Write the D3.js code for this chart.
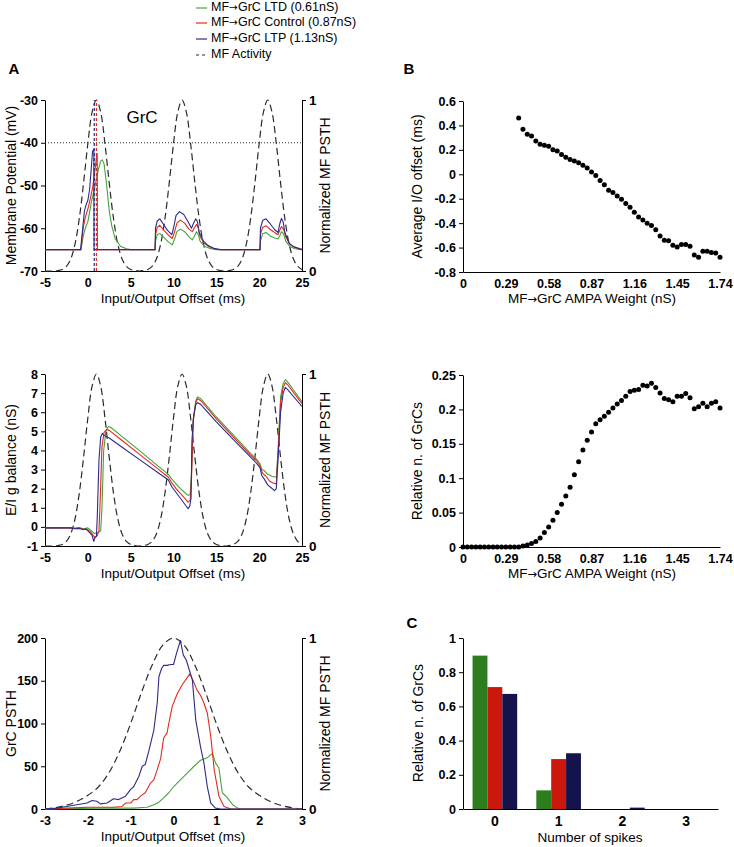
<!DOCTYPE html>
<html><head><meta charset="utf-8">
<script src="https://cdn.jsdelivr.net/npm/d3@7"></script>
<style>
body{margin:0;background:#fff;}
svg{display:block;font-family:"Liberation Sans",Arial,sans-serif;}
</style></head><body>
<svg id="c" width="734" height="847"></svg>
<script>
// ---------------- DATA ----------------
const legendLabels = ["MF\u2192GrC LTD (0.61nS)", "MF\u2192GrC Control (0.87nS)", "MF\u2192GrC LTP (1.13nS)", "MF Activity"];
const seriesKeys = ["LTD", "Control", "LTP"];

// MF activity (normalized), shared by panels A top and middle
const mfTimes = [-5,-4.5,-4,-3.5,-3,-2.5,-2,-1.5,-1,-0.5,0,0.5,1,1.5,2,2.5,3,3.5,4,4.5,5,5.5,6,6.5,7,7.5,8,8.5,9,9.5,10,10.5,11,11.5,12,12.5,13,13.5,14,14.5,15,15.5,16,16.5,17,17.5,18,18.5,19,19.5,20,20.5,21,21.5,22,22.5,23,23.5,24,24.5,25];
const mfActivity = [0,0,0,0.003,0.009,0.027,0.07,0.157,0.306,0.514,0.744,0.929,1,0.929,0.744,0.514,0.306,0.157,0.07,0.027,0.009,0.003,0,0.003,0.009,0.027,0.07,0.157,0.306,0.514,0.744,0.929,1,0.929,0.744,0.514,0.306,0.157,0.07,0.027,0.009,0.003,0,0.003,0.009,0.027,0.07,0.157,0.306,0.514,0.744,0.929,1,0.929,0.744,0.514,0.306,0.157,0.07,0.027,0.009];

// Panel A top: membrane potential [ms, mV]
const vmLTD = [[-5,-65],[-0.8,-65],[-0.55,-62],[-0.3,-60],[0,-58.5],[0.4,-54],[0.8,-50.5],[1.2,-46.5],[1.5,-44.3],[1.7,-44],[1.9,-45],[2.2,-50],[2.5,-56],[2.8,-59.5],[3.2,-62.5],[3.8,-64.2],[4.5,-64.8],[5,-65],[7.85,-65],[7.9,-63],[8.1,-61.5],[8.4,-61.2],[8.9,-62.2],[9.4,-63.2],[9.85,-63.9],[10.1,-62.7],[10.4,-60.8],[10.8,-60.2],[11.3,-60.8],[11.8,-62],[12.2,-62.7],[12.4,-62],[12.7,-60.8],[12.9,-61.5],[13.1,-63],[13.6,-64.2],[14.2,-64.7],[15,-65],[20.1,-65],[20.15,-63],[20.4,-61.3],[20.8,-61],[21.3,-61.8],[21.8,-62.3],[22.2,-62.5],[22.4,-61.8],[22.6,-60.8],[22.85,-61.3],[23.1,-63],[23.6,-64.3],[24.2,-64.8],[25,-65]];
const vmControl = [[-5,-65],[-0.8,-65],[-0.55,-60],[-0.3,-57.5],[0,-55.5],[0.3,-53],[0.6,-50],[0.85,-46],[1.05,-43],[1.1,-42.5],[1.12,-65],[7.85,-65],[7.9,-61.5],[8.1,-59.8],[8.4,-59.3],[8.9,-60.5],[9.4,-61.6],[9.85,-62.4],[10.1,-61],[10.4,-58.8],[10.8,-58.1],[11.3,-58.8],[11.8,-60.2],[12.2,-60.8],[12.4,-60],[12.7,-59.1],[12.9,-60],[13.1,-62],[13.6,-63.5],[14.2,-64.4],[15,-64.9],[15.5,-65],[20.1,-65],[20.15,-61.5],[20.4,-59.8],[20.8,-59.4],[21.3,-60.3],[21.8,-61],[22.2,-61.5],[22.4,-60.5],[22.6,-59.6],[22.85,-60.2],[23.1,-62],[23.6,-63.8],[24.2,-64.5],[25,-65]];
const vmLTP = [[-5,-65],[-0.85,-65],[-0.6,-60],[-0.4,-56],[-0.2,-54.5],[0,-53.5],[0.2,-51],[0.4,-46],[0.55,-42],[0.7,-41.5],[0.72,-65],[7.85,-65],[7.9,-60],[8.1,-58.3],[8.4,-57.8],[8.8,-59],[9.3,-60.5],[9.8,-61.5],[10,-60],[10.3,-57],[10.7,-56.1],[11.2,-56.8],[11.7,-58.5],[12.1,-60],[12.3,-59],[12.6,-57.8],[12.8,-58.5],[13,-61],[13.5,-63],[14,-64],[14.7,-64.7],[15.5,-65],[20.1,-65],[20.15,-60],[20.4,-58.2],[20.8,-57.8],[21.3,-59],[21.8,-60.3],[22.2,-61],[22.4,-59],[22.6,-57.7],[22.8,-58.5],[23,-61],[23.5,-63.5],[24,-64.3],[25,-65]];
const spikeLTP = [0.75];
const spikeControl = [1.0];
const thresholdMv = -40;

// Panel A middle: E/I g balance [ms, nS]
const gLTD = [[-5,-0.05],[-2,-0.05],[-1.5,-0.07],[-1,-0.05],[-0.5,-0.1],[0,-0.05],[0.4,-0.2],[0.8,-0.35],[1.2,-0.3],[1.5,-0.2],[1.65,1.0],[1.85,4.0],[2.1,5.0],[2.4,5.25],[2.7,5.2],[4,4.72],[6,4.0],[8,3.26],[9.4,2.75],[9.8,2.5],[10.3,2.25],[10.8,2.0],[11.3,1.8],[11.7,1.65],[11.95,1.7],[12.1,2.8],[12.3,5.6],[12.6,6.6],[12.8,6.8],[13.2,6.7],[15,5.75],[17,4.8],[19,3.85],[19.7,3.55],[20.1,3.3],[20.3,3.0],[20.6,2.95],[21,2.75],[21.5,2.65],[22,2.6],[22.2,4.0],[22.5,6.8],[22.8,7.5],[23.05,7.7],[23.3,7.6],[25,6.55]];
const gControl = [[-5,-0.05],[-2,-0.05],[-1.5,-0.08],[-1,-0.05],[-0.5,-0.12],[0,-0.15],[0.4,-0.3],[0.8,-0.55],[1.1,-0.45],[1.3,-0.2],[1.45,1.5],[1.65,4.2],[1.9,4.95],[2.2,5.1],[2.5,5.05],[4,4.52],[6,3.81],[8,3.1],[9.4,2.6],[9.8,2.3],[10.3,2.0],[10.8,1.75],[11.3,1.5],[11.7,1.3],[11.95,1.4],[12.1,2.5],[12.3,5.5],[12.6,6.5],[12.8,6.7],[13.2,6.6],[15,5.65],[17,4.7],[19,3.75],[19.7,3.45],[20.1,3.2],[20.4,2.8],[20.8,2.65],[21.2,2.4],[21.6,2.3],[22,2.25],[22.2,3.8],[22.5,6.5],[22.8,7.3],[23.05,7.55],[23.3,7.45],[25,6.45]];
const gLTP = [[-5,-0.05],[-2,-0.05],[-1.5,-0.1],[-1,-0.08],[-0.5,-0.15],[-0.2,-0.1],[0.2,-0.3],[0.5,-0.45],[0.7,-0.75],[0.85,-0.55],[1.0,-0.5],[1.1,0.5],[1.3,3.5],[1.5,4.7],[1.7,4.9],[1.9,4.8],[2.2,4.7],[2.5,4.65],[4,4.17],[6,3.53],[8,2.9],[9.4,2.45],[9.8,2.1],[10.3,1.8],[10.8,1.5],[11.3,1.2],[11.7,0.95],[11.9,1.1],[12.05,1.5],[12.15,4.5],[12.35,5.8],[12.6,6.4],[12.8,6.5],[13.2,6.4],[15,5.49],[17,4.57],[19,3.65],[19.7,3.32],[20.1,3.1],[20.3,2.7],[20.6,2.5],[21,2.2],[21.4,2.05],[21.8,1.9],[22,2.0],[22.2,3.5],[22.5,6.0],[22.8,7.0],[23.05,7.3],[23.3,7.2],[25,6.3]];

// Panel A bottom: GrC PSTH [ms, count]
const psthLTD = [[-3,0],[-1.7,1],[-0.93,1],[-0.62,2],[-0.46,5],[-0.34,8],[-0.23,13],[-0.11,19],[0,26],[0.16,34],[0.32,42],[0.48,50],[0.63,57],[0.79,60],[0.91,65],[0.98,54],[1.06,48],[1.14,19],[1.26,13],[1.38,5],[1.5,1],[1.57,0],[3,0]];
const psthControl = [[-3,0],[-2.5,1],[-2,2],[-1.7,2],[-1.4,2],[-1.2,3],[-1.12,7],[-1,7],[-0.93,11],[-0.85,11],[-0.77,15],[-0.66,19],[-0.54,30],[-0.46,34],[-0.38,46],[-0.3,59],[-0.23,83],[-0.15,89],[-0.11,100],[-0.03,120],[0.09,135],[0.2,145],[0.38,158],[0.46,150],[0.55,139],[0.63,133],[0.71,124],[0.79,112],[0.87,85],[0.95,46],[1.06,15],[1.18,3],[1.34,0],[3,0]];
const psthLTP = [[-3,0],[-2.73,1],[-2.49,3],[-2.26,5],[-2.02,7],[-1.9,10],[-1.79,9],[-1.71,6],[-1.55,7],[-1.4,12],[-1.28,11],[-1.12,15],[-1,23],[-0.93,26],[-0.81,38],[-0.73,50],[-0.66,52],[-0.58,67],[-0.46,92],[-0.38,124],[-0.34,155],[-0.28,164],[-0.23,168],[-0.15,168],[-0.07,169],[0,169],[0.07,182],[0.16,197],[0.23,180],[0.3,174],[0.36,164],[0.44,151],[0.52,104],[0.63,73],[0.71,54],[0.79,26],[0.87,7],[0.98,1],[1.1,0],[3,0]];
const psthTimes = [-3,-2.75,-2.5,-2.25,-2,-1.75,-1.5,-1.25,-1,-0.75,-0.5,-0.25,0,0.25,0.5,0.75,1,1.25,1.5,1.75,2,2.25,2.5,2.75,3];
const mfPsth = [0,0.008,0.022,0.045,0.08,0.13,0.215,0.34,0.5,0.68,0.84,0.958,1,0.958,0.84,0.68,0.5,0.34,0.215,0.13,0.08,0.045,0.022,0.008,0];

// Panel B: weights (nS)
const weights = [0,0.029,0.058,0.087,0.116,0.145,0.174,0.203,0.232,0.261,0.29,0.319,0.348,0.377,0.406,0.435,0.464,0.493,0.522,0.551,0.58,0.609,0.638,0.667,0.696,0.725,0.754,0.783,0.812,0.841,0.87,0.899,0.928,0.957,0.986,1.015,1.044,1.073,1.102,1.131,1.16,1.189,1.218,1.247,1.276,1.305,1.334,1.363,1.392,1.421,1.45,1.479,1.508,1.537,1.566,1.595,1.624,1.653,1.682,1.711,1.74];
// Average I/O offset, starting at weight index 13
const ioOffset = [0.461,0.368,0.327,0.313,0.272,0.245,0.237,0.229,0.2,0.19,0.163,0.14,0.122,0.108,0.095,0.073,0.051,0.019,-0.009,-0.05,-0.085,-0.13,-0.15,-0.177,-0.205,-0.24,-0.27,-0.31,-0.35,-0.375,-0.4,-0.42,-0.455,-0.505,-0.54,-0.545,-0.58,-0.595,-0.575,-0.575,-0.59,-0.66,-0.68,-0.63,-0.63,-0.64,-0.645,-0.68];
const ioStartIndex = 13;
const relGrC = [0,0,0,0,0,0,0,0,0,0,0,0,0,0,0.0015,0.003,0.005,0.008,0.013,0.021,0.029,0.039,0.05,0.062,0.074,0.087,0.105,0.124,0.141,0.155,0.167,0.179,0.185,0.19,0.196,0.202,0.208,0.213,0.219,0.226,0.228,0.229,0.235,0.234,0.238,0.232,0.224,0.216,0.214,0.211,0.219,0.219,0.223,0.217,0.201,0.204,0.209,0.204,0.209,0.211,0.202];
const weightTicks = [0,0.29,0.58,0.87,1.16,1.45,1.74];

// Panel C
const spikeCounts = ["0","1","2","3"];
const barLTD = [0.897,0.109,0,0];
const barControl = [0.713,0.292,0,0];
const barLTP = [0.673,0.326,0.008,0];

// ---------------- DRAW ----------------
const svg = d3.select("#c");
const col = {LTD:"#46a23b", Control:"#e32a1c", LTP:"#2f2b88", mf:"#2a2a2a"};
const barCol = {LTD:"#2d7d1e", Control:"#cc180c", LTP:"#15134b"};
const FONT = '"Liberation Sans", Arial, sans-serif';
const fmt = d => String(+d.toFixed(2));

function styleAxis(g, size, bold){
  g.attr("font-family", FONT).attr("font-size", size);
  g.select(".domain").attr("stroke","#000").attr("stroke-width",1);
  g.selectAll(".tick line").attr("stroke","#000");
  g.selectAll(".tick text").attr("fill","#000").attr("font-weight", bold ? "bold" : "normal");
}
// write text, rendering the arrow glyph with DejaVu Sans so it is full-size
function fillText(t, s){
  const parts = s.split("\u2192");
  parts.forEach((p,i)=>{
    if (i>0) t.append("tspan").attr("font-family",'"DejaVu Sans", sans-serif').attr("font-size","0.85em").text("\u2192");
    t.append("tspan").text(p);
  });
}
function text(x, y, s, opts={}){
  const t = svg.append("text").attr("x",x).attr("y",y)
    .attr("font-family",FONT).attr("font-size",opts.size||14)
    .attr("font-weight",opts.weight||"normal").attr("fill","#000")
    .attr("text-anchor",opts.anchor||"middle").attr("dominant-baseline","middle");
  fillText(t, s);
  if (opts.rotate) t.attr("transform",`rotate(-90,${x},${y})`);
  return t;
}

// Legend
const legY = [8, 23, 39, 55];
const legCols = [col.LTD, col.Control, col.LTP, col.mf];
legendLabels.forEach((lab,i)=>{
  svg.append("line").attr("x1",196).attr("x2",207).attr("y1",legY[i]).attr("y2",legY[i])
    .attr("stroke",legCols[i]).attr("stroke-width",1.2)
    .attr("stroke-dasharray", i===3 ? "3,3" : null);
  text(211, legY[i], lab, {size:12.5, anchor:"start"});
});

// Panel letters
text(14, 70, "A", {size:15, weight:"bold"});
text(409, 70, "B", {size:15, weight:"bold"});
text(412, 624, "C", {size:15, weight:"bold"});

// ---- A panels common ----
function aPanel(top, bottom, xDom, xTicks, yDom, yTicks, yTitle, xTitleY){
  const x = d3.scaleLinear().domain(xDom).range([45,302]);
  const y = d3.scaleLinear().domain(yDom).range([bottom, top]);
  const yR = d3.scaleLinear().domain([0,1]).range([bottom, top]);
  const gx = svg.append("g").attr("transform",`translate(0,${bottom})`)
    .call(d3.axisBottom(x).tickValues(xTicks).tickSize(0).tickSizeOuter(0).tickPadding(7).tickFormat(fmt));
  styleAxis(gx, 12.5, true);
  const gy = svg.append("g").attr("transform","translate(45,0)")
    .call(d3.axisLeft(y).tickValues(yTicks).tickSize(4).tickSizeOuter(0).tickPadding(3).tickFormat(fmt));
  styleAxis(gy, 12.5, true);
  const gr = svg.append("g").attr("transform","translate(302,0)")
    .call(d3.axisRight(yR).tickValues([0,1]).tickSize(4).tickSizeOuter(0).tickPadding(3).tickFormat(fmt));
  styleAxis(gr, 13.5, true);
  text(12, (top+bottom)/2, yTitle, {size:14, rotate:true});
  text(326, (top+bottom)/2, "Normalized MF PSTH", {size:14, rotate:true});
  text(173, xTitleY, "Input/Output Offset (ms)", {size:13.5});
  return {x, y, yR};
}
function drawLine(data, sx, sy, color, w, dash, curve){
  svg.append("path").datum(data)
    .attr("d", d3.line().x(d=>sx(d[0])).y(d=>sy(d[1])).curve(curve || d3.curveLinear))
    .attr("fill","none").attr("stroke",color).attr("stroke-width",w||1)
    .attr("stroke-dasharray", dash||null).attr("stroke-linejoin","round");
}
const mfPairs = mfTimes.map((t,i)=>[t, mfActivity[i]]);

// A top
const a1 = aPanel(100, 271, [-5,25], [-5,0,5,10,15,20,25], [-70,-30], [-70,-60,-50,-40,-30], "Membrane Potential (mV)", 299);
svg.append("line").attr("x1",a1.x(-5)).attr("x2",a1.x(25)).attr("y1",a1.y(thresholdMv)).attr("y2",a1.y(thresholdMv))
  .attr("stroke","#333").attr("stroke-width",1).attr("stroke-dasharray","1,2");
drawLine(mfPairs, a1.x, a1.yR, col.mf, 1.2, "7,4", d3.curveCatmullRom);
drawLine(vmLTD, a1.x, a1.y, col.LTD, 1.1);
drawLine(vmControl, a1.x, a1.y, col.Control, 1.1);
drawLine(vmLTP, a1.x, a1.y, col.LTP, 1.1);
spikeLTP.forEach(t=>svg.append("line").attr("x1",a1.x(t)).attr("x2",a1.x(t)).attr("y1",a1.y(-70)).attr("y2",a1.y(-30))
  .attr("stroke",col.LTP).attr("stroke-width",1.2).attr("stroke-dasharray","3,2"));
spikeControl.forEach(t=>svg.append("line").attr("x1",a1.x(t)).attr("x2",a1.x(t)).attr("y1",a1.y(-70)).attr("y2",a1.y(-30))
  .attr("stroke",col.Control).attr("stroke-width",1.2).attr("stroke-dasharray","3,2"));
text(142, 119, "GrC", {size:17});

// A middle
const a2 = aPanel(374, 546, [-5,25], [-5,0,5,10,15,20,25], [-1,8], [-1,0,1,2,3,4,5,6,7,8], "E/I g balance (nS)", 574);
drawLine(mfPairs, a2.x, a2.yR, col.mf, 1.2, "7,4", d3.curveCatmullRom);
drawLine(gLTD, a2.x, a2.y, col.LTD, 1.1);
drawLine(gControl, a2.x, a2.y, col.Control, 1.1);
drawLine(gLTP, a2.x, a2.y, col.LTP, 1.1);

// A bottom
const a3 = aPanel(638, 809, [-3,3], [-3,-2,-1,0,1,2,3], [0,200], [0,50,100,150,200], "GrC PSTH", 837);
drawLine(psthTimes.map((t,i)=>[t, mfPsth[i]]), a3.x, a3.yR, col.mf, 1.2, "7,4", d3.curveCatmullRom);
drawLine(psthLTD, a3.x, a3.y, col.LTD, 1.1);
drawLine(psthControl, a3.x, a3.y, col.Control, 1.1);
drawLine(psthLTP, a3.x, a3.y, col.LTP, 1.1);

// ---- B panels ----
function bPanel(top, bottom, yDom, yTicks, yTitle, xTitleY){
  const x = d3.scaleLinear().domain([0,1.74]).range([463,720]);
  const y = d3.scaleLinear().domain(yDom).range([bottom, top]);
  const gx = svg.append("g").attr("transform",`translate(0,${bottom})`)
    .call(d3.axisBottom(x).tickValues(weightTicks).tickSize(0).tickSizeOuter(0).tickPadding(7).tickFormat(fmt));
  styleAxis(gx, 12.5, true);
  const gy = svg.append("g").attr("transform","translate(463,0)")
    .call(d3.axisLeft(y).tickValues(yTicks).tickSize(4).tickSizeOuter(0).tickPadding(3).tickFormat(fmt));
  styleAxis(gy, 12.5, true);
  text(418, (top+bottom)/2, yTitle, {size:14, rotate:true});
  text(592, xTitleY, "MF\u2192GrC AMPA Weight (nS)", {size:13.5});
  return {x, y};
}
const b1 = bPanel(101, 272, [-0.8,0.6], [-0.8,-0.6,-0.4,-0.2,0,0.2,0.4,0.6], "Average I/O offset (ms)", 299);
svg.append("g").selectAll("circle").data(ioOffset).join("circle")
  .attr("cx",(d,i)=>b1.x(weights[i+ioStartIndex])).attr("cy",d=>b1.y(d)).attr("r",2.5).attr("fill","#000");
const b2 = bPanel(375, 547, [0,0.25], [0,0.05,0.1,0.15,0.2,0.25], "Relative n. of GrCs", 574);
svg.append("g").selectAll("circle").data(relGrC).join("circle")
  .attr("cx",(d,i)=>b2.x(weights[i])).attr("cy",d=>b2.y(d)).attr("r",2.5).attr("fill","#000");

// ---- C ----
const cx0 = d3.scaleBand().domain(spikeCounts).range([463,718]).paddingInner(0.3).paddingOuter(0.15);
const cx1 = d3.scaleBand().domain(seriesKeys).range([0, cx0.bandwidth()]);
const cy = d3.scaleLinear().domain([0,1]).range([809,638]);
const barData = {LTD:barLTD, Control:barControl, LTP:barLTP};
seriesKeys.forEach(k=>{
  svg.append("g").selectAll("rect").data(barData[k]).join("rect")
    .attr("x",(d,i)=>cx0(spikeCounts[i]) + cx1(k))
    .attr("width", cx1.bandwidth())
    .attr("y", d=>cy(d)).attr("height", d=>cy(0)-cy(d))
    .attr("fill", barCol[k]);
});
const gcx = svg.append("g").attr("transform","translate(0,809)")
  .call(d3.axisBottom(cx0).tickSize(0).tickSizeOuter(0).tickPadding(7));
styleAxis(gcx, 14, true);
const gcy = svg.append("g").attr("transform","translate(463,0)")
  .call(d3.axisLeft(cy).tickValues([0,0.2,0.4,0.6,0.8,1]).tickSize(4).tickSizeOuter(0).tickPadding(3).tickFormat(fmt));
styleAxis(gcy, 12.5, true);
text(419, 723, "Relative n. of GrCs", {size:14, rotate:true});
text(590, 838, "Number of spikes", {size:13.5});
</script>
</body></html>
